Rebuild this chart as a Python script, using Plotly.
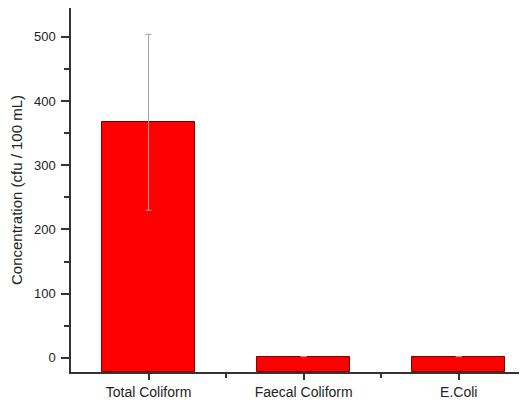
import plotly.graph_objects as go

categories = ["Total Coliform", "Faecal Coliform", "E.Coli"]
values = [367, 2, 2]
errors = [137, 0, 0]
y_min, y_max = -22, 545

positions = list(range(len(categories)))
fig = go.Figure()
fig.add_trace(go.Bar(
    x=positions,
    y=[v - y_min for v in values],
    base=y_min,
    width=0.6,
    marker=dict(color="#ff0000", line=dict(color="#7a0000", width=1)),
    error_y=dict(type="data", array=errors, color="#a0a0a0", thickness=1, width=3),
    hoverinfo="skip",
))
fig.update_layout(
    width=519, height=393,
    margin=dict(l=63, r=0, t=0, b=29),
    paper_bgcolor="white", plot_bgcolor="white",
    showlegend=False,
    font=dict(family="Liberation Sans, Arial, sans-serif", color="#333333"),
    bargap=0,
)
fig.update_xaxes(
    range=[-0.5, 2.44],
    automargin=False,
    tickvals=positions, ticktext=categories,
    showline=True, linecolor="#333333", linewidth=1.5,
    ticks="outside", ticklen=6, tickcolor="#333333", tickwidth=1.5,
    minor=dict(tickvals=[0.5, 1.5], ticks="outside", ticklen=4, tickcolor="#333333", tickwidth=1.5),
    showgrid=False, zeroline=False,
    tickfont=dict(size=14, color="#222222"),
)
fig.update_yaxes(
    range=[y_min, y_max],
    automargin=False,
    dtick=100, tick0=0,
    showline=True, linecolor="#333333", linewidth=1.5,
    ticks="outside", ticklen=8, tickcolor="#333333", tickwidth=1.5,
    minor=dict(dtick=50, tick0=0, ticks="outside", ticklen=5, tickcolor="#333333", tickwidth=1.5),
    showgrid=False, zeroline=False,
    ticklabelstandoff=3,
    tickfont=dict(size=13, color="#222222"),
    title=dict(text="Concentration (cfu / 100 mL)", font=dict(size=15, color="#222222")),
)
fig.write_html("out.html")
